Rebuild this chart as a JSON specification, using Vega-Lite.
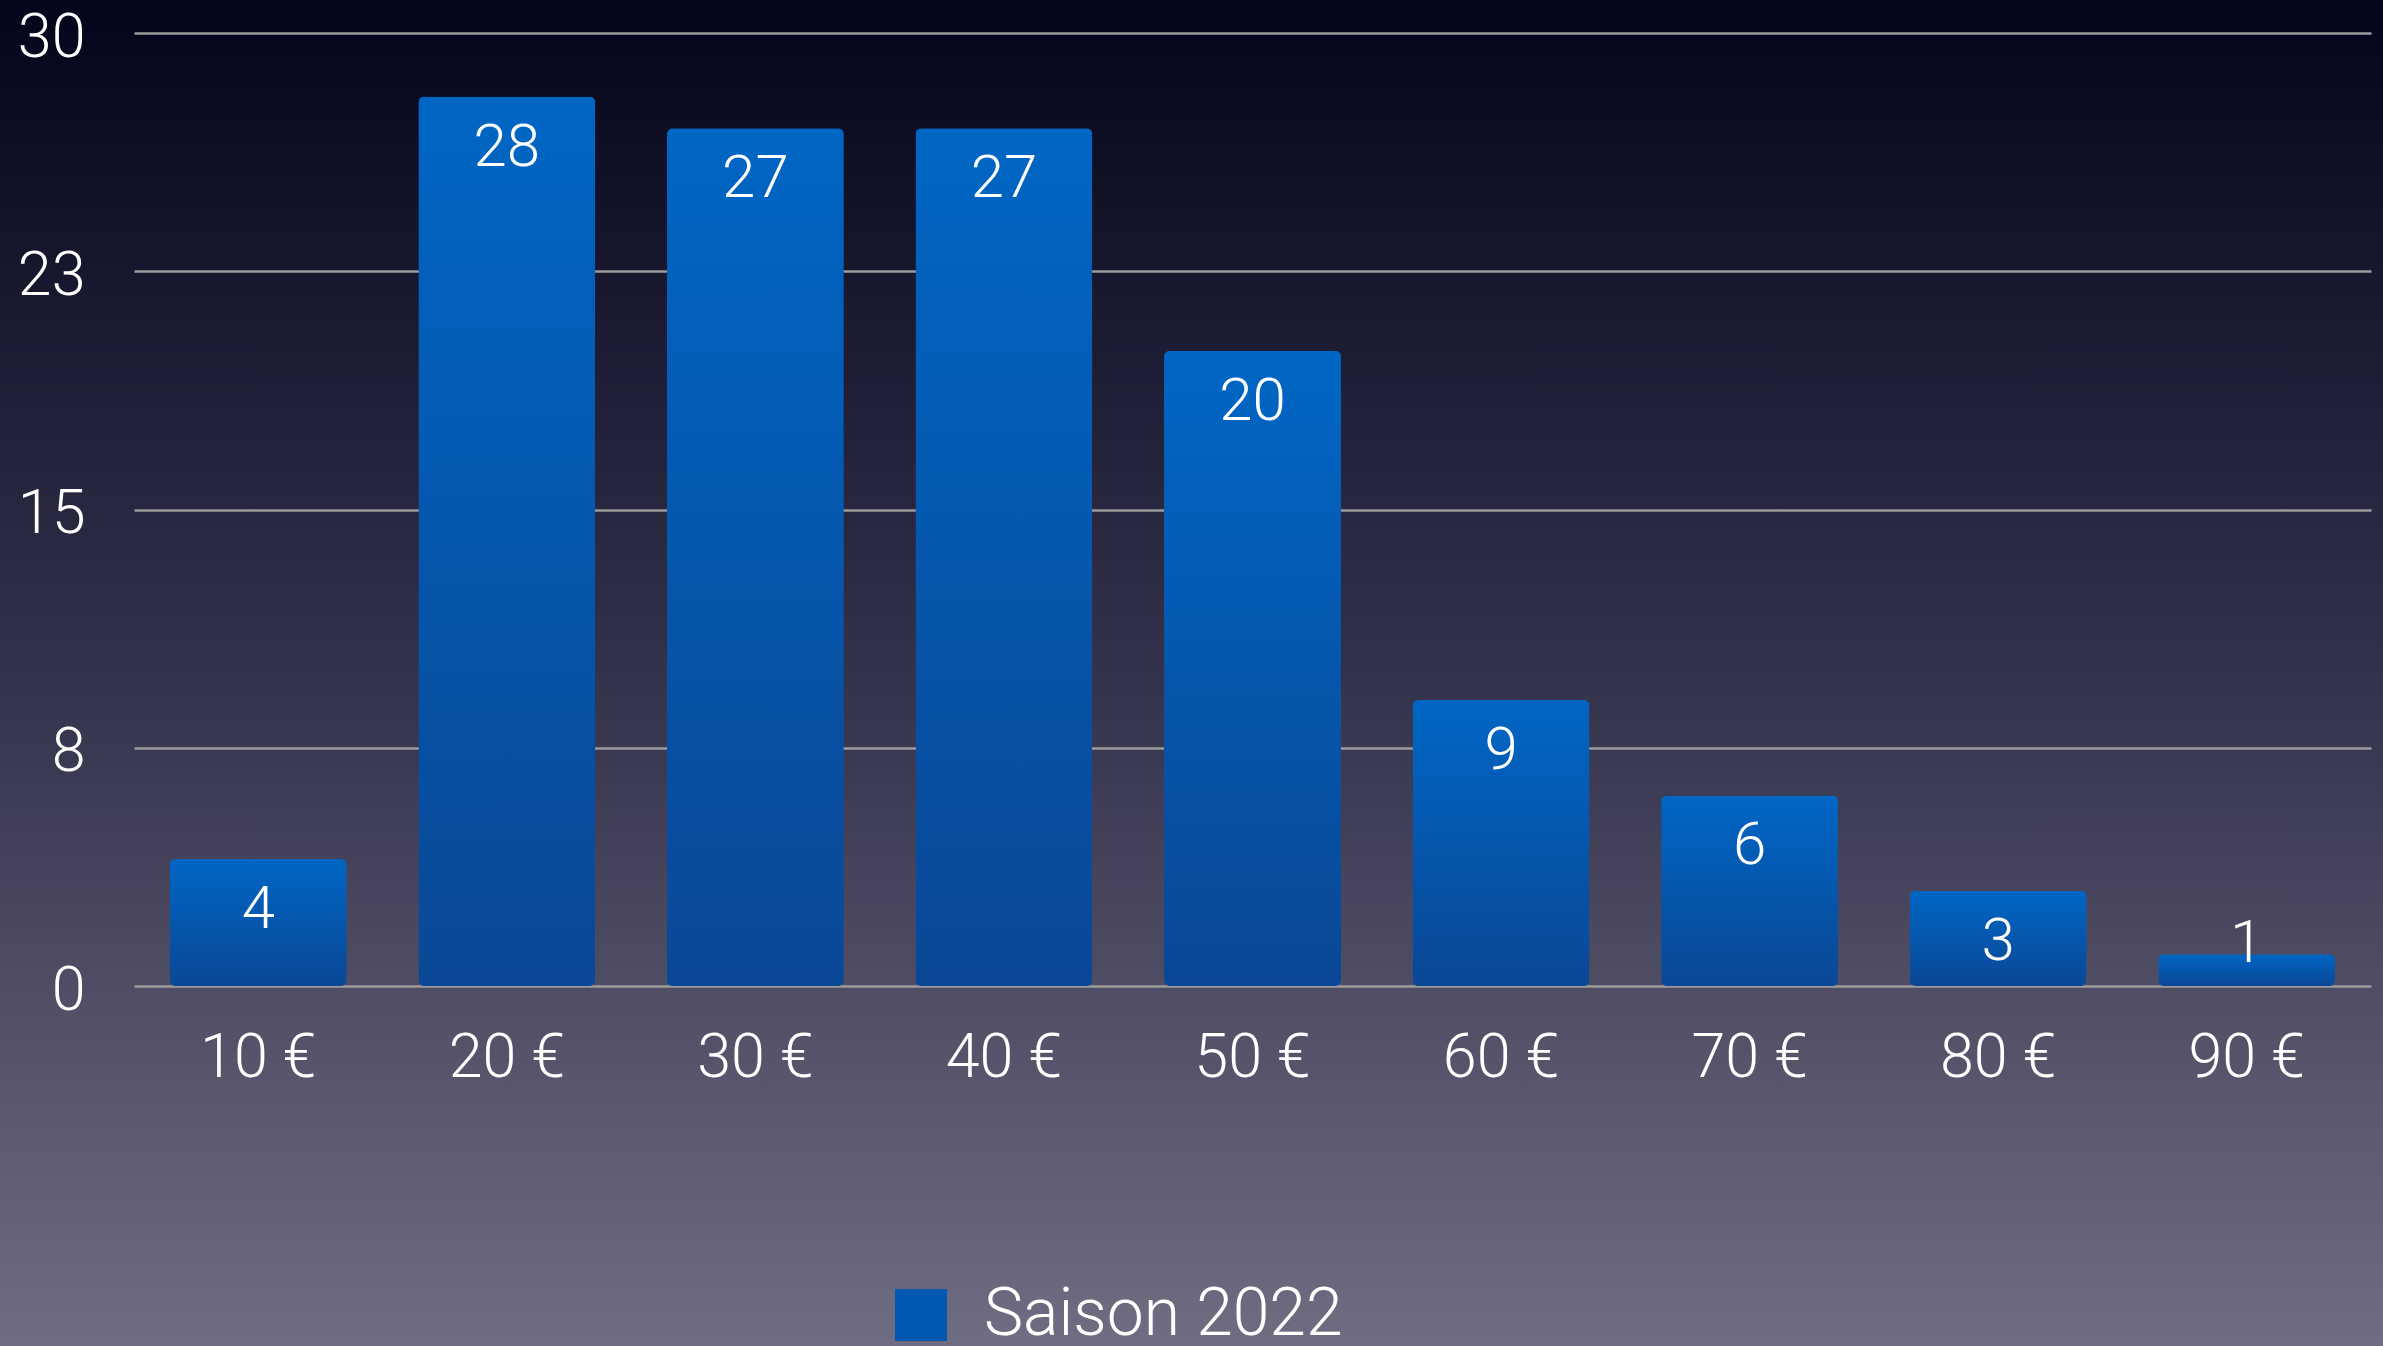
{
  "$schema": "https://vega.github.io/schema/vega-lite/v6.json",
  "width": 2383,
  "height": 1346,
  "autosize": {"type": "none"},
  "padding": 0,
  "background": "#2a2940",
  "config": {
    "view": {
      "stroke": null,
      "fill": {"gradient": "linear", "x1": 0, "y1": 0, "x2": 0, "y2": 1,
        "stops": [{"offset": 0, "color": "#04041a"}, {"offset": 0.5, "color": "#33324b"}, {"offset": 1, "color": "#6e6d82"}]}
    },
    "font": "Roboto"
  },
  "data": {"values": [
    {"prix": "10 €", "n": 4, "serie": "Saison 2022"},
    {"prix": "20 €", "n": 28, "serie": "Saison 2022"},
    {"prix": "30 €", "n": 27, "serie": "Saison 2022"},
    {"prix": "40 €", "n": 27, "serie": "Saison 2022"},
    {"prix": "50 €", "n": 20, "serie": "Saison 2022"},
    {"prix": "60 €", "n": 9, "serie": "Saison 2022"},
    {"prix": "70 €", "n": 6, "serie": "Saison 2022"},
    {"prix": "80 €", "n": 3, "serie": "Saison 2022"},
    {"prix": "90 €", "n": 1, "serie": "Saison 2022"}
  ]},
  "encoding": {
    "x": {"field": "prix", "type": "nominal", "sort": null,
      "scale": {"range": [134, 2371], "paddingInner": 0.288, "paddingOuter": 0.144},
      "axis": {"title": null, "orient": "bottom", "offset": -360, "domain": false, "ticks": false, "tickSize": 0,
        "labelPadding": 42, "labelFontSize": 61, "labelFont": "Roboto", "labelFontWeight": 300, "labelColor": "#ffffff", "labelAngle": 0, "grid": false}}
  },
  "layer": [
    {
      "mark": {"type": "bar", "cornerRadius": 6,
        "fill": {"gradient": "linear", "x1": 0, "y1": 0, "x2": 0, "y2": 1,
          "stops": [{"offset": 0, "color": "#0066c4"}, {"offset": 1, "color": "#0a4796"}]}},
      "encoding": {
        "y": {"field": "n", "type": "quantitative",
          "scale": {"domain": [0, 30], "range": [986, 33], "nice": false, "zero": true},
          "axis": {"title": null, "orient": "left", "offset": -134, "domain": false, "ticks": false, "tickSize": 0,
            "values": [0, 7.5, 15, 22.5, 30], "labelExpr": "round(datum.value)",
            "labelPadding": 49, "labelOffset": 5, "labelFontSize": 61, "labelFont": "Roboto", "labelFontWeight": 300, "labelColor": "#ffffff",
            "grid": true, "gridColor": "#9b9b9b", "gridWidth": 2.5}},
        "color": {"field": "serie", "type": "nominal",
          "scale": {"range": ["#0058b0"]},
          "legend": {"title": null, "orient": "none", "legendX": 888, "legendY": 1282, "padding": 0, "offset": 0,
            "symbolType": "square", "symbolSize": 2704, "symbolStrokeWidth": 0,
            "labelFontSize": 66, "labelFont": "Roboto", "labelFontWeight": 300, "labelColor": "#ffffff", "labelOffset": 30, "labelLimit": 1000}}
      }
    },
    {
      "mark": {"type": "text", "baseline": "middle", "align": "center", "dy": 51, "fontSize": 60, "font": "Roboto", "fontWeight": 300, "color": "#ffffff"},
      "encoding": {
        "y": {"field": "n", "type": "quantitative",
          "scale": {"domain": [2.93, 30], "range": [892.9, 33], "clamp": true, "nice": false, "zero": false},
          "axis": null},
        "text": {"field": "n", "type": "quantitative"}
      }
    }
  ],
  "resolve": {"scale": {"y": "independent"}}
}
